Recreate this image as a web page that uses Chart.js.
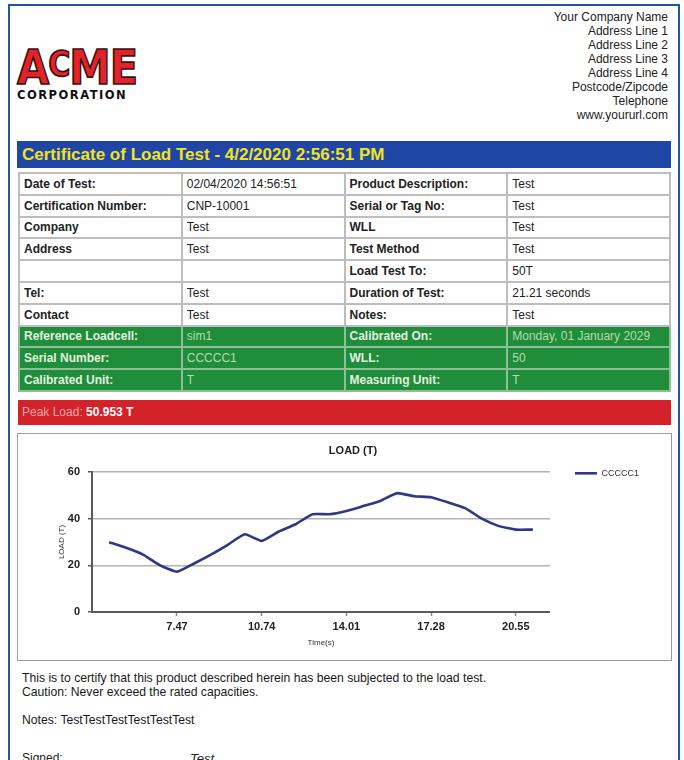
<!DOCTYPE html>
<html lang="en">
<head>
<meta charset="UTF-8">
<title>Certificate of Load Test</title>
<script src="https://cdn.jsdelivr.net/npm/chart.js"></script>
<style>
  body { margin: 0; background: #fff; font-family: Arial, "Liberation Sans", sans-serif; color: #222; }
  .frame { position: absolute; left: 8px; top: 4px; width: 668px; height: 800px; border: 2px solid #2155a8; }
  .logo { position: absolute; left: 17px; top: 47px; width: 130px; }
  .acme { font-family: "DejaVu Sans", sans-serif; font-weight: 900; color: #e3232b; -webkit-text-stroke: 1.4px #3a1010;
          transform: scale(1.04, 1.2); transform-origin: left top; white-space: nowrap; line-height: 34px; height: 41px; }
  .acme .big { font-size: 40px; letter-spacing: -1px; }
  .acme .sm { font-size: 29px; position: relative; top: -7px; letter-spacing: -1px; }
  .corp { font-family: "DejaVu Sans", sans-serif; font-weight: 900; font-size: 11.5px; letter-spacing: 1.5px; color: #111; }
  .company { position: absolute; right: 16px; top: 10px; text-align: right; font-size: 12px; line-height: 14px; color: #222; }
  .titlebar { position: absolute; left: 17px; top: 141px; width: 649px; height: 27px; padding-left: 5px; background: #1f46a4;
              color: #f2e31e; font-weight: bold; font-size: 17px; line-height: 28px; }
  table.info { position: absolute; left: 18px; top: 172px; width: 653px; border-collapse: collapse; table-layout: fixed; font-size: 12px; }
  table.info td { border: 2px solid #bdbdbd; height: 19.8px; padding: 0 4px; white-space: nowrap; overflow: hidden; }
  table.info td.k { font-weight: bold; }
  table.info tr.g td { background: #1f8d3b; color: #b4dcae; border-color: #8fbf95; }
  table.info tr.g td.k { color: #e2f2de; }
  .peak { position: absolute; left: 18px; top: 400px; width: 649px; height: 25px; padding-left: 4px; background: #d3222a;
          font-size: 12px; line-height: 25px; color: #f3a5a5; }
  .peak b { color: #fff; }
  .chartbox { position: absolute; left: 17px; top: 433px; width: 653px; height: 226px; border: 1px solid #9c9c9c; }
  .chartwrap { position: absolute; left: 1px; top: 1px; width: 651px; height: 224px; }
  .foot { position: absolute; left: 22px; top: 671px; font-size: 12.2px; line-height: 14px; color: #1a1a1a; }
  .foot p { margin: 0; }
  .sign { position: absolute; top: 751px; font-size: 12px; }
</style>
</head>
<body>
<div class="frame"></div>

<div class="logo">
  <div class="acme"><span class="big">A</span><span class="sm">C</span><span class="big">ME</span></div>
  <div class="corp">CORPORATION</div>
</div>

<div class="company">
  Your Company Name<br>Address Line 1<br>Address Line 2<br>Address Line 3<br>Address Line 4<br>Postcode/Zipcode<br>Telephone<br>www.yoururl.com
</div>

<div class="titlebar">Certificate of Load Test - 4/2/2020 2:56:51 PM</div>

<table class="info">
  <tr><td class="k">Date of Test:</td><td>02/04/2020 14:56:51</td><td class="k">Product Description:</td><td>Test</td></tr>
  <tr><td class="k">Certification Number:</td><td>CNP-10001</td><td class="k">Serial or Tag No:</td><td>Test</td></tr>
  <tr><td class="k">Company</td><td>Test</td><td class="k">WLL</td><td>Test</td></tr>
  <tr><td class="k">Address</td><td>Test</td><td class="k">Test Method</td><td>Test</td></tr>
  <tr><td></td><td></td><td class="k">Load Test To:</td><td>50T</td></tr>
  <tr><td class="k">Tel:</td><td>Test</td><td class="k">Duration of Test:</td><td>21.21 seconds</td></tr>
  <tr><td class="k">Contact</td><td>Test</td><td class="k">Notes:</td><td>Test</td></tr>
  <tr class="g"><td class="k">Reference Loadcell:</td><td>sim1</td><td class="k">Calibrated On:</td><td>Monday, 01 January 2029</td></tr>
  <tr class="g"><td class="k">Serial Number:</td><td>CCCCC1</td><td class="k">WLL:</td><td>50</td></tr>
  <tr class="g"><td class="k">Calibrated Unit:</td><td>T</td><td class="k">Measuring Unit:</td><td>T</td></tr>
</table>

<div class="peak">Peak Load: <b>50.953 T</b></div>

<div class="chartbox">
  <div class="chartwrap"><canvas id="grafico"></canvas></div>
</div>

<div class="foot">
  <p>This is to certify that this product described herein has been subjected to the load test.</p>
  <p>Caution: Never exceed the rated capacities.</p>
  <p>&nbsp;</p>
  <p>Notes: TestTestTestTestTestTest</p>
</div>
<div class="sign" style="left:22px">Signed:</div>
<div class="sign" style="left:190px; font-style:italic; font-size:13px">Test</div>

<script>
  // load cell readings, one every ~0.65 s
  const tiempos = [4.85, 5.51, 6.16, 6.82, 7.47, 8.13, 8.78, 9.43, 10.09, 10.74, 11.40, 12.05, 12.70,
                   13.36, 14.01, 14.66, 15.32, 15.97, 16.63, 17.28, 17.93, 18.59, 19.24, 19.90, 20.55, 21.21];
  const carga = [29.9, 27.5, 24.6, 20.0, 17.3, 20.8, 24.6, 28.8, 33.3, 30.5, 34.5, 37.6, 41.9,
                 41.9, 43.3, 45.4, 47.6, 50.95, 49.6, 49.2, 47.0, 44.5, 40.0, 36.8, 35.3, 35.3];
  const etiquetasX = [7.47, 10.74, 14.01, 17.28, 20.55];
  const serie = 'CCCCC1';

  // axis runs one sample past each end, like the original report
  const paso = tiempos[1] - tiempos[0];
  const xMin = tiempos[0] - paso;
  const xMax = tiempos[tiempos.length - 1] + paso;

  const ctx = document.getElementById('grafico').getContext('2d');
  new Chart(ctx, {
    type: 'line',
    data: {
      datasets: [{
        label: serie,
        data: tiempos.map((t, i) => ({ x: t, y: carga[i] })),
        borderColor: '#2d3886',
        backgroundColor: '#2d3886',
        borderWidth: 2.6,
        pointRadius: 0,
        tension: 0.15
      }]
    },
    options: {
      responsive: true,
      maintainAspectRatio: false,
      animation: false,
      events: [],
      layout: { padding: { left: 38, right: 21, top: 0, bottom: 0 } },
      plugins: {
        title: {
          display: true,
          text: 'LOAD (T)',
          color: '#222',
          font: { family: 'Arial, "Liberation Sans", sans-serif', size: 11, weight: 'bold' },
          padding: { top: 9, bottom: 14.8 }
        },
        legend: {
          position: 'right',
          align: 'start',
          title: { display: true, text: ' ', font: { size: 1 }, padding: { top: 7.6, bottom: 0 } },
          labels: {
            usePointStyle: true,
            pointStyle: 'line',
            pointStyleWidth: 22,
            padding: 25,
            color: '#333',
            font: { family: 'Arial, "Liberation Sans", sans-serif', size: 9 }
          }
        },
        tooltip: { enabled: false }
      },
      scales: {
        x: {
          type: 'linear',
          min: xMin,
          max: xMax,
          afterBuildTicks: axis => { axis.ticks = etiquetasX.map(v => ({ value: v })); },
          afterFit: axis => { axis.height = 47; },
          grid: { drawOnChartArea: false, tickLength: 4, tickColor: '#8a8a8a', tickWidth: 1.5 },
          border: { color: '#5a5a5a', width: 2 },
          ticks: {
            color: '#222',
            padding: 4,
            maxRotation: 0,
            autoSkip: false,
            font: { family: 'Arial, "Liberation Sans", sans-serif', size: 11, weight: 'bold' },
            callback: v => v.toFixed(2)
          },
          title: {
            display: true,
            text: 'Time(s)',
            color: '#333',
            font: { family: 'Arial, "Liberation Sans", sans-serif', size: 8 },
            padding: { top: 0, bottom: 11 }
          }
        },
        y: {
          min: 0,
          max: 60,
          afterFit: axis => { axis.width = 35; },
          grid: {
            color: c => (c.tick && c.tick.value === 0) ? 'rgba(0,0,0,0)' : '#b4b4b4',
            lineWidth: 1.5,
            tickLength: 4,
            tickColor: '#5a5a5a'
          },
          border: { color: '#5a5a5a', width: 2 },
          ticks: {
            stepSize: 20,
            color: '#222',
            padding: 8,
            font: { family: 'Arial, "Liberation Sans", sans-serif', size: 11, weight: 'bold' }
          },
          title: {
            display: true,
            text: 'LOAD (T)',
            color: '#333',
            font: { family: 'Arial, "Liberation Sans", sans-serif', size: 8 },
            padding: 0
          }
        }
      }
    }
  });
</script>
</body>
</html>
